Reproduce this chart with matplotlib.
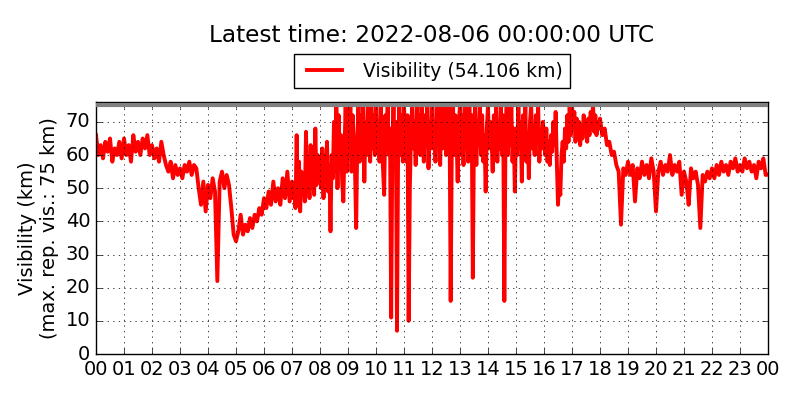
import datetime as dt
import matplotlib
matplotlib.use('Agg')
import matplotlib.pyplot as plt
import matplotlib.dates as mdates
import numpy as np

# Visibility readings (km) per hour of 2022-08-05, evenly spaced within each hour
# (5-min readings in quiet hours, 2.5-min readings in the noisy ones)
vis_by_hour = [
    [66, 60, 63, 59, 64, 61, 65, 58, 62, 60, 64, 59],   # 00
    [65, 60, 63, 58, 66, 61, 64, 60, 65, 62, 66, 60],   # 01
    [63, 59, 62, 58, 64, 60, 57, 55, 58, 53, 57, 54],   # 02
    [56, 53, 57, 55, 58, 54, 57, 56, 50, 45, 52, 43],   # 03
    [51, 47, 53, 49, 22, 52, 55, 50, 54, 51, 44, 36],   # 04
    [34, 37, 42, 36, 39, 37, 41, 38, 42, 40, 44, 42],   # 05
    [47, 44, 49, 45, 52, 46, 50, 45, 53, 47, 55, 46],   # 06
    [52, 47, 50, 44, 66, 45, 58, 43, 55, 48, 52, 46,
     67, 49, 58, 47, 63, 50, 56, 48, 68, 51, 60, 53],   # 07
    [58, 50, 62, 47, 60, 52, 64, 49, 57, 37, 60, 53,
     70, 55, 75, 50, 72, 58, 66, 52, 46, 62, 75, 55],   # 08
    [70, 60, 75, 55, 72, 62, 56, 38, 66, 75, 58, 72,
     63, 75, 52, 70, 60, 75, 66, 58, 75, 62, 72, 60],   # 09
    [75, 63, 70, 58, 75, 64, 56, 48, 72, 66, 75, 60,
     68, 11, 62, 75, 58, 70, 7, 64, 75, 60, 72, 58],    # 10
    [75, 66, 58, 72, 10, 50, 66, 75, 62, 70, 57, 75,
     64, 72, 60, 75, 67, 58, 72, 63, 75, 56, 70, 62],   # 11
    [75, 62, 70, 58, 75, 64, 72, 57, 75, 62, 68, 75,
     60, 72, 66, 75, 16, 64, 75, 60, 72, 66, 52, 70],   # 12
    [75, 60, 72, 57, 75, 65, 70, 58, 75, 62, 72, 23,
     68, 75, 57, 70, 64, 75, 60, 72, 58, 66, 49, 68],   # 13
    [75, 62, 70, 66, 55, 72, 64, 75, 58, 70, 62, 75,
     60, 72, 16, 66, 75, 60, 70, 63, 75, 58, 68, 49],   # 14
    [68, 60, 75, 64, 70, 52, 72, 62, 75, 58, 66, 53,
     70, 75, 62, 68, 60, 72, 64, 75, 58, 66, 62, 70],   # 15
    [66, 60, 68, 58, 64, 57, 66, 61, 70, 63, 73, 58,
     45, 52, 48, 60, 64, 58, 68, 62, 72, 64, 75, 66],   # 16
    [75, 68, 73, 64, 71, 66, 70, 63, 69, 65, 72, 67,
     70, 64, 71, 66, 73, 68, 75, 67, 72, 66, 70, 68],   # 17
    [71, 66, 68, 63, 64, 60, 61, 57, 55, 39, 56, 54],   # 18
    [58, 54, 57, 46, 56, 53, 58, 54, 57, 53, 59, 55],   # 19
    [43, 55, 58, 54, 57, 55, 60, 54, 57, 55, 58, 48],   # 20
    [55, 52, 45, 56, 53, 55, 51, 38, 54, 52, 55, 53],   # 21
    [56, 53, 57, 54, 58, 55, 57, 54, 58, 56, 59, 55],   # 22
    [57, 55, 59, 56, 58, 55, 57, 53, 58, 56, 59, 54],   # 23
]
last_vis = 54.106
MAX_REP_VIS = 75

start = dt.datetime(2022, 8, 5, 0, 0)
times, vis = [], []
for h, row in enumerate(vis_by_hour):
    step = 60.0 / len(row)
    for i, v in enumerate(row):
        times.append(start + dt.timedelta(minutes=h * 60 + i * step))
        vis.append(v)
times.append(start + dt.timedelta(days=1))
vis.append(last_vis)

plt.style.use('classic')
plt.rcParams['font.family'] = 'DejaVu Sans'

fig = plt.figure(figsize=(8, 4), dpi=100, facecolor='white')
ax = fig.add_axes([0.12, 0.115, 0.84, 0.63])

ax.plot(times, vis, color='red', lw=2.8, label=f'Visibility ({last_vis:.3f} km)')
ax.axhline(MAX_REP_VIS, color='gray', lw=3, zorder=3)

ax.set_xlim(start, start + dt.timedelta(days=1))
ax.set_ylim(0, 76)
ax.set_yticks(range(0, 71, 10))
ax.xaxis.set_major_locator(mdates.HourLocator(interval=1))
ax.xaxis.set_major_formatter(mdates.DateFormatter('%H'))
ax.tick_params(labelsize=14)
ax.grid(True)
ax.set_ylabel('Visibility (km)\n(max. rep. vis.: 75 km)', fontsize=14)

ax.text(0.5, 1.265, 'Latest time: 2022-08-06 00:00:00 UTC', transform=ax.transAxes,
        ha='center', va='center', fontsize=16.7)
ax.legend(loc='upper center', bbox_to_anchor=(0.5, 1.19), fontsize=13.5,
          handlelength=2.5, borderaxespad=0)

fig.savefig('out.png', dpi=100, facecolor='white')
